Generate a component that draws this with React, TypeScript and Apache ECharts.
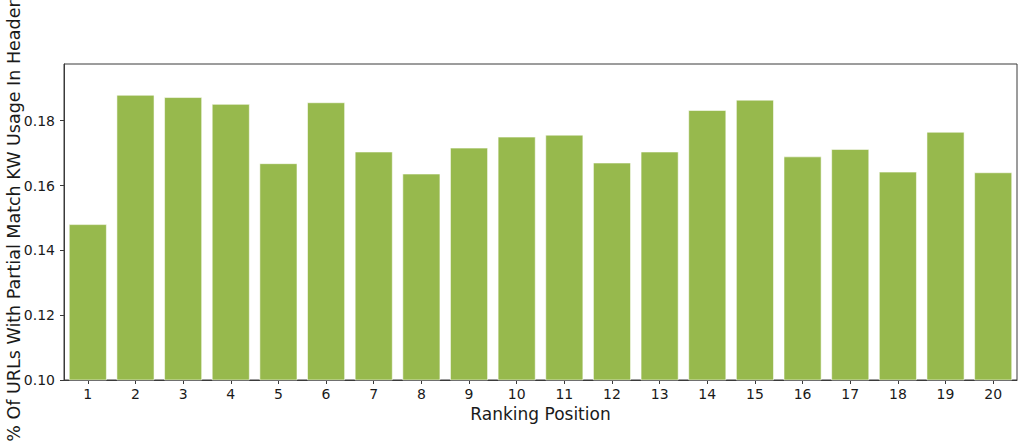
import React, { useEffect, useRef } from "react";
import * as echarts from "echarts";

const categories = ["1","2","3","4","5","6","7","8","9","10","11","12","13","14","15","16","17","18","19","20"];
const values = [0.1481,0.1880,0.1873,0.1852,0.1669,0.1857,0.1705,0.1637,0.1717,0.1751,0.1757,0.1671,0.1705,0.1833,0.1865,0.1690,0.1713,0.1643,0.1766,0.1641];
const yTicks = [0.10, 0.12, 0.14, 0.16, 0.18];
const xTitle = "Ranking Position";
const yTitle = "% Of URLs With Partial Match KW Usage In Header";

export default function App() {
  const ref = useRef<HTMLDivElement>(null);
  useEffect(() => {
    if (!ref.current) return;
    const chart = echarts.init(ref.current, null, { renderer: "svg" });
    const font = "DejaVu Sans";
    chart.setOption({
      animation: false,
      backgroundColor: "#ffffff",
      textStyle: { fontFamily: font },
      grid: {
        left: 64, right: 7, top: 64, bottom: 65,
        outerBoundsMode: "none",
        containLabel: false,
        show: true, borderColor: "#3a3a3a", borderWidth: 1, backgroundColor: "transparent",
      },
      graphic: [
        {
          type: "text",
          x: 13.5,
          y: 221,
          rotation: Math.PI / 2,
          style: {
            text: yTitle,
            fontFamily: font,
            fontSize: 17.5,
            fill: "#1a1a1a",
            align: "center",
            verticalAlign: "middle",
          },
        },
      ],
      xAxis: {
        type: "category",
        data: categories,
        name: xTitle,
        nameLocation: "middle",
        nameGap: 22,
        nameTextStyle: { fontFamily: font, fontSize: 17, color: "#1a1a1a" },
        axisLine: { show: true, lineStyle: { color: "#3a3a3a", width: 1 } },
        axisTick: { show: true, alignWithLabel: true, length: 4, lineStyle: { color: "#3a3a3a" } },
        axisLabel: { fontFamily: font, fontSize: 14, color: "#1a1a1a", margin: 7 },
        splitLine: { show: false },
      },
      yAxis: {
        type: "value",
        min: 0.10,
        max: 0.1975,
        interval: 0.02,
        axisLine: { show: true, lineStyle: { color: "#3a3a3a", width: 1 } },
        axisTick: { show: true, length: 4, lineStyle: { color: "#3a3a3a" }, customValues: yTicks },
        axisLabel: {
          fontFamily: font, fontSize: 14, color: "#1a1a1a", margin: 9,
          customValues: yTicks,
          formatter: (v: number) => v.toFixed(2),
        },
        splitLine: { show: false },
      },
      series: [
        {
          type: "bar",
          data: values,
          barCategoryGap: "20%",
          itemStyle: { color: "#97b94d", borderColor: "rgba(255,255,255,0.55)", borderWidth: 1 },
        },
      ],
    });
    return () => chart.dispose();
  }, []);
  return (
    <div
      ref={ref}
      style={{ position: "absolute", left: 0, top: 0, width: 1024, height: 445 }}
    />
  );
}
